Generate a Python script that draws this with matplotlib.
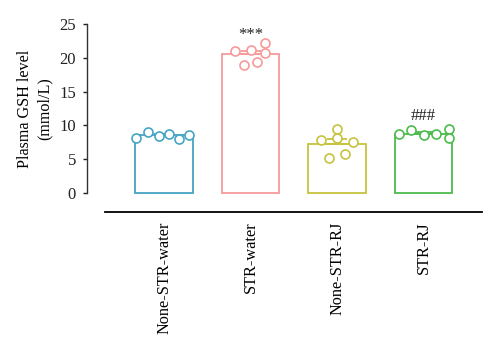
import numpy as np
import matplotlib
matplotlib.use("Agg")
import matplotlib.pyplot as plt

plt.rcParams['font.family'] = ['Liberation Serif', 'DejaVu Serif']

categories = ["None-STR-water", "STR-water", "None-STR-RJ", "STR-RJ"]
bar_means = [8.6, 20.5, 7.3, 8.8]
points = [
    [8.2, 9.0, 8.4, 8.8, 8.0, 8.6],
    [21.0, 18.9, 21.1, 19.4, 22.2, 20.7],
    [7.9, 5.2, 9.5, 8.1, 5.7, 7.5],
    [8.7, 9.3, 8.6, 8.8, 9.5, 8.2],
]
annotations = ["", "***", "", "###"]
annotation_y = [None, 23.4, None, 11.4]
yticks = [0, 5, 10, 15, 20, 25]

colors = ["#46a4c4", "#f69a9a", "#c6c33e", "#4cbc4c"]
# horizontal swarm offsets (layout, in category units)
offsets = [
    [-0.32, -0.18, -0.06, 0.06, 0.17, 0.29],
    [-0.18, -0.08, 0.0, 0.08, 0.17, 0.17],
    [-0.18, -0.09, 0.0, 0.0, 0.09, 0.18],
    [-0.28, -0.14, 0.0, 0.14, 0.29, 0.29],
]

fig = plt.figure(figsize=(5.0, 3.49), dpi=100)
ax = fig.add_axes([0.174, 0.3926, 0.79, 0.5386])
x = np.arange(len(categories))

for i in range(len(categories)):
    ax.bar(x[i], bar_means[i], width=0.66, facecolor="white", edgecolor=colors[i],
           linewidth=1.3, zorder=2)
    pts = np.array(points[i])
    sem = pts.std(ddof=1) / np.sqrt(len(pts))
    ax.errorbar(x[i], bar_means[i], yerr=[[0], [sem]], fmt="none", ecolor=colors[i],
                elinewidth=1.3, capsize=7, capthick=1.3, zorder=3)
    ax.plot(x[i] + np.array(offsets[i]), pts, linestyle="none", marker="o",
            markersize=6.5, markerfacecolor="white", markeredgecolor=colors[i],
            markeredgewidth=1.2, zorder=4, clip_on=False)
    if annotations[i]:
        ax.text(x[i], annotation_y[i], annotations[i], ha="center", va="center",
                fontsize=12, color="#222222")

ax.set_xlim(-0.89, 3.676)
ax.set_ylim(-2.81, 25)
ax.set_yticks(yticks)
ax.set_yticklabels([str(t) for t in yticks], fontsize=12)
ax.spines['left'].set_bounds(0, 25)
ax.spines['bottom'].set_bounds(-0.682, 3.676)
ax.spines['top'].set_visible(False)
ax.spines['right'].set_visible(False)
ax.spines['left'].set_color("#333333")
ax.spines['left'].set_linewidth(1.0)
ax.spines['bottom'].set_linewidth(1.3)
ax.tick_params(axis='y', direction='out', length=3, width=1.0, pad=5, colors="#222222")
ax.set_xticks(x)
ax.set_xticklabels(categories, rotation=90, fontsize=11.7, va="top", ha="center")
ax.tick_params(axis='x', length=0, pad=7)

fig.text(0.07, 1 - 109 / 349, "Plasma GSH level\n(mmol/L)", rotation=90,
         ha="center", va="center", fontsize=11.6, linespacing=1.25)

fig.savefig("out.png", dpi=100)
